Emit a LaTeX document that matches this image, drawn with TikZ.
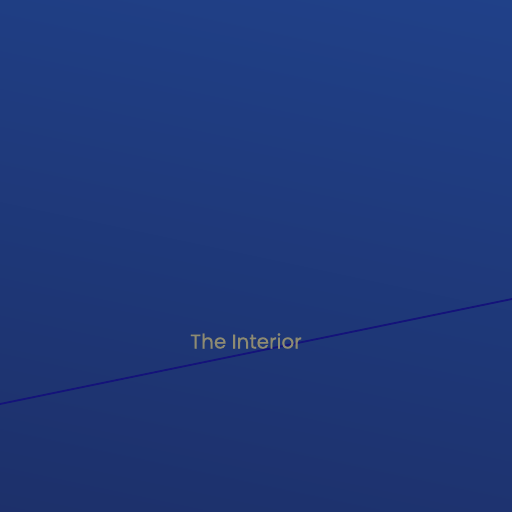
\documentclass[tikz,border=0pt]{standalone}
\usepackage{fontspec}
\setmainfont{Poppins}
\newfontfamily\labelfont[FakeBold=0.6]{Poppins}
\definecolor{bgtop}{HTML}{204189}
\definecolor{bgbot}{HTML}{1D306A}
\definecolor{linec}{HTML}{14137A}
\definecolor{txtc}{HTML}{8E8B72}
\begin{document}
\begin{tikzpicture}[x=1pt,y=-1pt,
  labelstyle/.style={text=txtc,font=\labelfont\fontsize{20}{22}\selectfont,inner sep=0pt}]
\useasboundingbox (0,0) rectangle (512,512);
\shade[top color=bgtop,bottom color=bgbot,shading angle=-12] (-60,-60) rectangle (572,572);
\coordinate (L) at (0,404);
\coordinate (R) at (512,299);
\draw[linec,line width=1.8pt] (L) -- (R);
\node[labelstyle] (t) at (246,341) {The Interior};
\end{tikzpicture}
\end{document}
